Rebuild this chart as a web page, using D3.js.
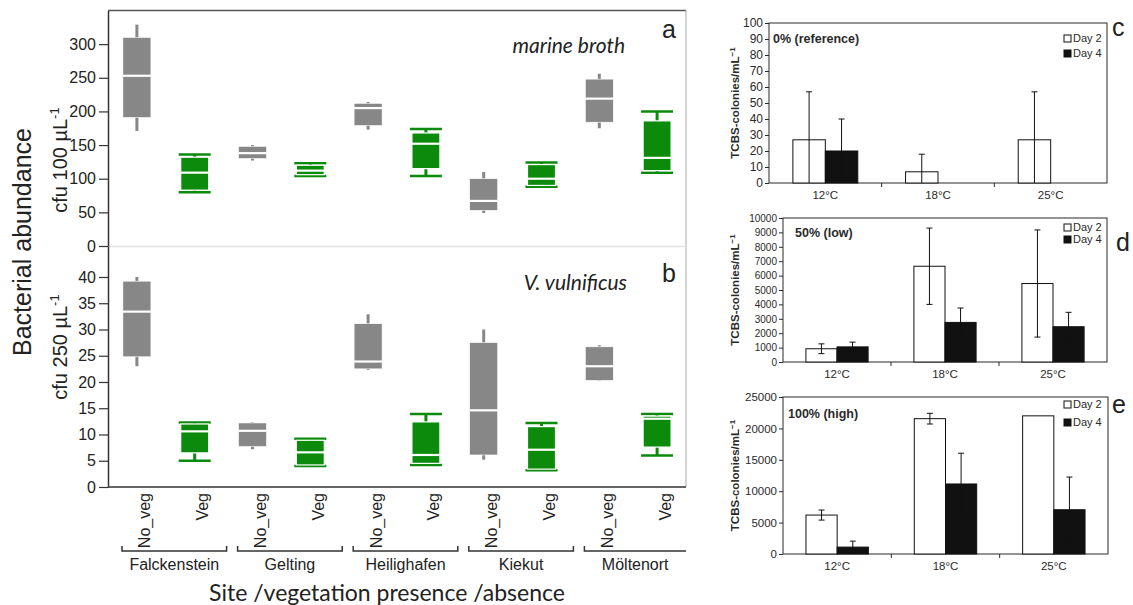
<!DOCTYPE html>
<meta charset="utf-8">
<body style="margin:0;background:#ffffff">
<svg width="1133" height="605"></svg>
<script src="https://d3js.org/d3.v7.min.js"></script>
<script>
// ---- left figure data: [min, q1, median, q3, max] per site/vegetation ----
var sites = ['Falckenstein', 'Gelting', 'Heilighafen', 'Kiekut', 'Möltenort']
var groups = ['No_veg', 'Veg']
var marineBroth = [
  [171, 191, 253, 310, 329],
  [80, 83, 109, 132, 136],
  [127, 130, 138, 148, 150],
  [104, 106, 112, 120, 123],
  [173, 179, 205, 212, 214],
  [104, 115, 152, 168, 174],
  [49, 53, 67, 100, 110],
  [88, 90, 100, 121, 124],
  [175, 184, 219, 248, 256],
  [109, 112, 131, 186, 200]
]
var vulnificus = [
  [23.0, 24.8, 33.4, 39.2, 40.0],
  [5.0, 6.5, 10.6, 12.0, 12.3],
  [7.2, 7.7, 10.7, 12.2, 12.3],
  [4.0, 4.2, 6.6, 8.9, 9.2],
  [22.3, 22.5, 23.9, 31.1, 32.9],
  [4.2, 4.5, 6.1, 12.4, 13.9],
  [5.2, 6.1, 14.6, 27.5, 30.0],
  [3.2, 3.4, 7.1, 11.5, 12.2],
  [20.2, 20.3, 23.0, 26.7, 27.0],
  [6.0, 7.6, 13.0, 13.5, 13.9]
]
var topTicks = [0, 50, 100, 150, 200, 250, 300]
var botTicks = [0, 5, 10, 15, 20, 25, 30, 35, 40]

// ---- right figure data (mean and sd) ----
var temps = ['12°C', '18°C', '25°C']
var cDay2 = [27, 7, 27], cDay2Sd = [30, 11, 30]
var cDay4 = [20, 0, 0], cDay4Sd = [20, 0, 0]
var dDay2 = [920, 6650, 5450], dDay2Sd = [340, 2650, 3720]
var dDay4 = [1050, 2750, 2450], dDay4Sd = [330, 1000, 1000]
var eDay2 = [6200, 21550, 22000], eDay2Sd = [800, 850, 0]
var eDay4 = [1100, 11150, 7050], eDay4Sd = [950, 4900, 5200]
var cTicks = d3.range(0, 101, 10)
var dTicks = d3.range(0, 10001, 1000)
var eTicks = d3.range(0, 25001, 5000)

var svg = d3.select('svg')
var sans = '"Liberation Sans", Arial, sans-serif'
var cal = 'Lato, "Open Sans", sans-serif'
var grey = '#878787'
var green = '#0b8a0b'

var x = d3.scaleBand().domain(d3.range(10)).range([108, 686])
var yTop = d3.scaleLinear().domain([0, 350]).range([246, 10.5])
var yBot = d3.scaleLinear().domain([0, 45.9]).range([487, 246])

// frame
svg.append('line').attr('x1', 108).attr('x2', 686).attr('y1', 10.5).attr('y2', 10.5)
  .attr('stroke', '#555').attr('stroke-width', 1.5)
svg.append('line').attr('x1', 686).attr('x2', 686).attr('y1', 10.5).attr('y2', 487)
  .attr('stroke', '#b5b5b5').attr('stroke-width', 1.2)
svg.append('line').attr('x1', 108).attr('x2', 686).attr('y1', 246.5).attr('y2', 246.5)
  .attr('stroke', '#e2e2e2').attr('stroke-width', 1.5)
svg.append('line').attr('x1', 108).attr('x2', 686).attr('y1', 487).attr('y2', 487)
  .attr('stroke', '#333').attr('stroke-width', 1.5)

function yAxis(scale, ticks) {
  var g = svg.append('g').attr('transform', 'translate(108,0)')
    .call(d3.axisLeft(scale).tickValues(ticks).tickSize(9).tickPadding(3).tickSizeOuter(0))
  g.select('.domain').attr('stroke', '#333').attr('stroke-width', 1.5)
  g.selectAll('.tick line').attr('stroke', '#333').attr('stroke-width', 1.2)
  g.selectAll('text').attr('font-family', sans).attr('font-size', 16).attr('fill', '#222')
}
yAxis(yTop, topTicks)
yAxis(yBot, botTicks)

function drawBoxes(stats, y) {
  stats.forEach(function(s, i) {
    var veg = i % 2 == 1
    var col = veg ? green : grey
    var cx = x(i) + x.bandwidth() / 2
    var bw = 28
    var g = svg.append('g')
    g.append('line').attr('x1', cx).attr('x2', cx).attr('y1', y(s[0])).attr('y2', y(s[4]))
      .attr('stroke', col).attr('stroke-width', 3)
    if (veg) {
      [s[0], s[4]].forEach(function(v) {
        g.append('line').attr('x1', cx - 16).attr('x2', cx + 16).attr('y1', y(v)).attr('y2', y(v))
          .attr('stroke', col).attr('stroke-width', 2.5)
      })
    }
    g.append('rect').attr('x', cx - bw / 2).attr('width', bw)
      .attr('y', y(s[3])).attr('height', y(s[1]) - y(s[3]))
      .attr('fill', col).attr('stroke', '#fff').attr('stroke-width', veg ? 1.2 : 0.6)
    g.append('line').attr('x1', cx - bw / 2).attr('x2', cx + bw / 2).attr('y1', y(s[2])).attr('y2', y(s[2]))
      .attr('stroke', '#fff').attr('stroke-width', 2.2)
  })
}
drawBoxes(marineBroth, yTop)
drawBoxes(vulnificus, yBot)

// x labels
svg.append('g').selectAll('text').data(d3.range(10)).enter().append('text')
  .attr('transform', function(i) { return 'translate(' + (x(i) + x.bandwidth() / 2 + 13.5) + ',493) rotate(-90)' })
  .attr('text-anchor', 'end').attr('font-family', sans).attr('font-size', 16).attr('fill', '#222')
  .text(function(i) { return groups[i % 2] })

var pairW = (686 - 108) / sites.length
sites.forEach(function(s, i) {
  var x1 = 108 + i * pairW + 14
  var x2 = Math.min(108 + (i + 1) * pairW + 3, 686)
  svg.append('path').attr('d', 'M' + x1 + ',546V551H' + x2 + (i < sites.length - 1 ? 'V546' : ''))
    .attr('fill', 'none').attr('stroke', '#333').attr('stroke-width', 1.5)
  svg.append('text').attr('x', (x1 + x2) / 2).attr('y', 570).attr('text-anchor', 'middle')
    .attr('font-family', sans).attr('font-size', 16).attr('fill', '#222').text(s)
})

svg.append('text').attr('x', 387).attr('y', 601).attr('text-anchor', 'middle')
  .attr('font-family', cal).attr('font-size', 23).attr('fill', '#222')
  .text('Site /vegetation presence /absence')

svg.append('text').attr('transform', 'translate(31,242) rotate(-90)').attr('text-anchor', 'middle')
  .attr('font-family', sans).attr('font-size', 25).attr('fill', '#222').text('Bacterial abundance')

function unitLabel(cy, vol) {
  var t = svg.append('text').attr('transform', 'translate(67,' + cy + ') rotate(-90)')
    .attr('text-anchor', 'middle').attr('font-family', sans).attr('font-size', 20).attr('fill', '#222')
  t.append('tspan').text('cfu ' + vol + ' µL')
  t.append('tspan').attr('dy', -8).attr('font-size', 13).text('-1')
}
unitLabel(160, 100)
unitLabel(347, 250)

svg.append('text').attr('x', 625).attr('y', 53).attr('text-anchor', 'end').attr('font-family', cal)
  .attr('font-style', 'italic').attr('font-size', 21).attr('fill', '#222').text('marine broth')
svg.append('text').attr('x', 627).attr('y', 290).attr('text-anchor', 'end').attr('font-family', cal)
  .attr('font-style', 'italic').attr('font-size', 21).attr('fill', '#222').text('V. vulnificus')
svg.append('text').attr('x', 662).attr('y', 38).attr('font-family', sans).attr('font-size', 25)
  .attr('fill', '#222').text('a')
svg.append('text').attr('x', 662).attr('y', 282).attr('font-family', sans).attr('font-size', 25)
  .attr('fill', '#222').text('b')

// ---- right bar panels ----
var panels = [
  { day2: cDay2, sd2: cDay2Sd, day4: cDay4, sd4: cDay4Sd, max: 100, ticks: cTicks, left: 769, right: 1107,
    top: 23, bottom: 183, tickFont: 12, title: '0% (reference)', tx: 773, ty: 43, ly: [35, 50], letter: 'c', lx: 1112, lyy: 36 },
  { day2: dDay2, sd2: dDay2Sd, day4: dDay4, sd4: dDay4Sd, max: 10000, ticks: dTicks, left: 783, right: 1107,
    top: 218, bottom: 362, tickFont: 10, title: '50% (low)', tx: 795, ty: 237, ly: [224, 236], letter: 'd', lx: 1116, lyy: 251 },
  { day2: eDay2, sd2: eDay2Sd, day4: eDay4, sd4: eDay4Sd, max: 25000, ticks: eTicks, left: 783, right: 1108,
    top: 397, bottom: 554, tickFont: 11.5, title: '100% (high)', tx: 788, ty: 418, ly: [401, 419], letter: 'e', lx: 1112, lyy: 413 }
]
var ink = '#2a2a2a'

panels.forEach(function(p) {
  var xc = d3.scaleBand().domain(temps).range([p.left, p.right])
  var y = d3.scaleLinear().domain([0, p.max]).range([p.bottom, p.top])
  var bw = xc.bandwidth() * 0.288
  var g = svg.append('g')

  g.append('rect').attr('x', p.left).attr('y', p.top).attr('width', p.right - p.left)
    .attr('height', p.bottom - p.top).attr('fill', 'none').attr('stroke', ink).attr('stroke-width', 1)
  var ax = g.append('g').attr('transform', 'translate(' + p.left + ',0)')
    .call(d3.axisLeft(y).tickValues(p.ticks).tickFormat(d3.format('d')).tickSize(4).tickPadding(2).tickSizeOuter(0))
  ax.select('.domain').remove()
  ax.selectAll('.tick line').attr('stroke', ink)
  ax.selectAll('text').attr('font-family', sans).attr('font-size', p.tickFont).attr('fill', ink)

  // category separators and labels
  temps.slice(1).forEach(function(t) {
    g.append('line').attr('x1', xc(t)).attr('x2', xc(t)).attr('y1', p.bottom).attr('y2', p.bottom + 4)
      .attr('stroke', ink)
  })
  g.selectAll('.cat').data(temps).enter().append('text')
    .attr('x', function(t) { return xc(t) + xc.bandwidth() / 2 })
    .attr('y', p.bottom + 16).attr('text-anchor', 'middle')
    .attr('font-family', sans).attr('font-size', 11.5).attr('fill', ink)
    .text(function(t) { return t })

  function bars(vals, sds, off, fill) {
    vals.forEach(function(v, i) {
      var bx = xc(temps[i]) + xc.bandwidth() / 2 + off
      if (v > 0) {
        g.append('rect').attr('x', bx).attr('width', bw).attr('y', y(v)).attr('height', p.bottom - y(v))
          .attr('fill', fill).attr('stroke', '#111').attr('stroke-width', 1)
      }
      if (sds[i] > 0) {
        var cx = bx + bw / 2
        var lo = Math.max(0, v - sds[i]), hi = v + sds[i]
        g.append('line').attr('x1', cx).attr('x2', cx).attr('y1', y(lo)).attr('y2', y(hi))
          .attr('stroke', '#111').attr('stroke-width', 1)
        var caps = lo > 0 ? [lo, hi] : [hi]
        caps.forEach(function(c) {
          g.append('line').attr('x1', cx - 3).attr('x2', cx + 3).attr('y1', y(c)).attr('y2', y(c))
            .attr('stroke', '#111').attr('stroke-width', 1)
        })
      }
    })
  }
  bars(p.day2, p.sd2, -bw, '#fff')
  bars(p.day4, p.sd4, 0, '#111')

  g.append('text').attr('x', p.tx).attr('y', p.ty).attr('font-family', sans).attr('font-weight', 'bold')
    .attr('font-size', 12.5).attr('fill', ink).text(p.title)

  ;['Day 2', 'Day 4'].forEach(function(lab, k) {
    g.append('rect').attr('x', 1064).attr('y', p.ly[k]).attr('width', 7).attr('height', 7)
      .attr('fill', k == 0 ? '#fff' : '#111').attr('stroke', '#111')
    g.append('text').attr('x', 1073).attr('y', p.ly[k] + 7).attr('font-family', sans)
      .attr('font-size', 11).attr('fill', ink).text(lab)
  })

  var yt = g.append('text').attr('transform', 'translate(739,' + (p.top + p.bottom) / 2 + ') rotate(-90)')
    .attr('text-anchor', 'middle').attr('font-family', sans).attr('font-weight', 'bold')
    .attr('font-size', 11.5).attr('fill', ink)
  yt.append('tspan').text('TCBS-colonies/mL')
  yt.append('tspan').attr('dy', -4).attr('font-size', 8).text('−1')

  g.append('text').attr('x', p.lx).attr('y', p.lyy).attr('font-family', sans).attr('font-size', 25)
    .attr('fill', '#222').text(p.letter)
})
</script>
